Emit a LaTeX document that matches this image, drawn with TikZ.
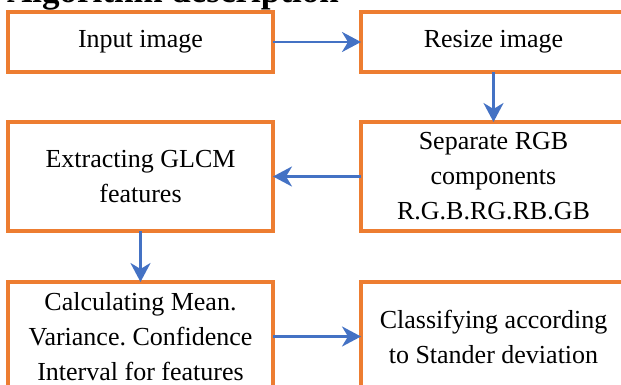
\documentclass[tikz,border=0pt]{standalone}
\usepackage{fontspec}
\setmainfont{Liberation Serif}
\usetikzlibrary{arrows.meta}
\frenchspacing
\definecolor{boxorange}{HTML}{ED7D31}
\definecolor{arrowblue}{HTML}{4472C4}
\tikzset{
  stepbox/.style={draw=boxorange, line width=3.3pt, fill=white, rectangle,
    minimum width=265pt, inner sep=0pt, outer sep=0pt, align=center,
    font=\fontsize{26}{35}\selectfont},
  flowarrow/.style={draw=arrowblue, line width=2.9pt,
    -{Stealth[length=19pt, width=20pt, inset=6pt]}}
}
\begin{document}
\begin{tikzpicture}[x=1pt, y=-1pt]
  \useasboundingbox (0,0) rectangle (621,385);
  \clip (0,0) rectangle (621,385);
  \node[anchor=base west, inner sep=0pt, font=\fontsize{35}{40}\selectfont\bfseries]
    (title) at (7,3) {Algorithm description};
  \node[stepbox, minimum height=60pt] (input) at (140.5,42) {Input image};
  \node[stepbox, minimum height=60pt] (resize) at (493.5,42) {Resize image};
  \node[stepbox, minimum height=109pt] (glcm) at (140.5,176.5) {Extracting GLCM\\features};
  \node[stepbox, minimum height=109pt] (rgb) at (493.5,176.5) {Separate RGB\\components\\R.G.B.RG.RB.GB};
  \node[stepbox, minimum height=109pt] (stats) at (140.5,336.5) {Calculating Mean.\\Variance. Confidence\\Interval for features};
  \node[stepbox, minimum height=109pt] (classify) at (493.5,336.5) {Classifying according\\to Stander deviation};
  \draw[flowarrow] (input.east) -- (resize.west);
  \draw[flowarrow] (resize.south) -- (rgb.north);
  \draw[flowarrow] (rgb.west) -- (glcm.east);
  \draw[flowarrow] (glcm.south) -- (stats.north);
  \draw[flowarrow] (stats.east) -- (classify.west);
\end{tikzpicture}
\end{document}
